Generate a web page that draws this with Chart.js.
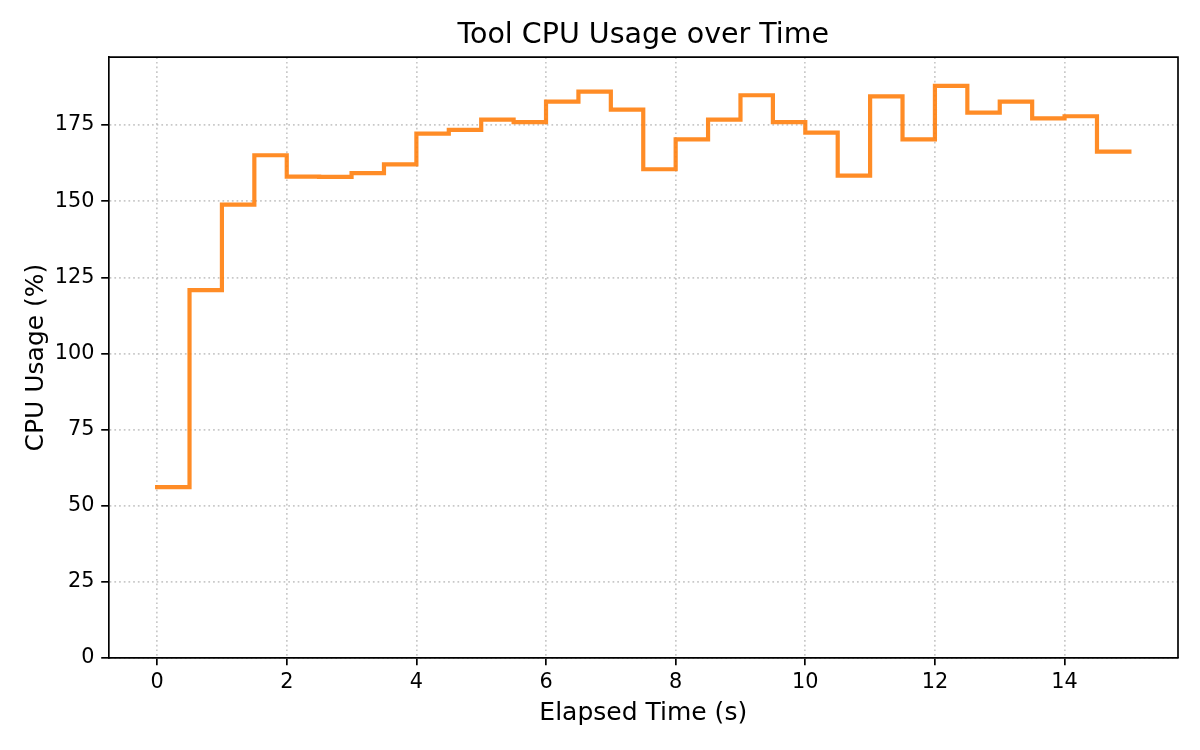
<!DOCTYPE html>
<html>
<head>
<meta charset="utf-8">
<title>Tool CPU Usage over Time</title>
<script src="https://cdn.jsdelivr.net/npm/chart.js@4/dist/chart.umd.min.js"></script>
<style>
  html, body { margin: 0; padding: 0; background: #fff; }
  #wrap { width: 1200px; height: 750px; }
</style>
</head>
<body>
<div id="wrap"><canvas id="cpuChart" width="1200" height="750"></canvas></div>
<script>
// sample times (s) and CPU usage (%)
const times = [
  0, 0.5, 1, 1.5, 2, 2.5, 3, 3.5, 4, 4.5,
  5, 5.5, 6, 6.5, 7, 7.5, 8, 8.5, 9, 9.5,
  10, 10.5, 11, 11.5, 12, 12.5, 13, 13.5, 14, 14.5, 15
];
const cpuUsage = [
  56.1, 120.8, 148.9, 165.1, 158.1, 158.0, 159.2, 162.1, 172.2, 173.4,
  176.8, 176.0, 182.7, 186.0, 180.1, 160.5, 170.3, 176.8, 184.8, 176.0,
  172.5, 158.4, 184.4, 170.3, 187.9, 179.1, 182.7, 177.2, 177.9, 166.3, 166.3
];
const xTicksStep = 2;
const yTicksStep = 25;

const FONT = "'DejaVu Sans', sans-serif";
const gridColor = "rgba(176,176,176,0.7)";

// matplotlib-like frame: draw top and right spines too
const framePlugin = {
  id: "frame",
  afterDraw(chart) {
    const { ctx, chartArea } = chart;
    ctx.save();
    ctx.strokeStyle = "#000";
    ctx.lineWidth = 1.67;
    ctx.beginPath();
    ctx.moveTo(chartArea.left, chartArea.top);
    ctx.lineTo(chartArea.right, chartArea.top);
    ctx.lineTo(chartArea.right, chartArea.bottom);
    ctx.stroke();
    ctx.restore();
  },
};

const points = times.map((t, i) => ({ x: t, y: cpuUsage[i] }));
const xMin = times[0] - 0.05 * (times[times.length - 1] - times[0]);
const xMax = times[times.length - 1] + 0.05 * (times[times.length - 1] - times[0]);
const yMax = Math.max(...cpuUsage) * 1.05;

new Chart(document.getElementById("cpuChart"), {
  type: "line",
  data: {
    datasets: [
      {
        label: "CPU Usage",
        data: points,
        stepped: true,
        borderColor: "rgba(255,127,14,0.9)",
        borderWidth: 4.2,
        borderCapStyle: "square",
        borderJoinStyle: "miter",
        pointRadius: 0,
        fill: false,
      },
    ],
  },
  options: {
    responsive: false,
    devicePixelRatio: 1,
    animation: false,
    layout: { padding: { left: 0, right: 22, top: 0, bottom: 0 } },
    plugins: {
      legend: { display: false },
      tooltip: { enabled: false },
      title: {
        display: true,
        fullSize: false,
        text: "Tool CPU Usage over Time",
        color: "#000",
        font: { family: FONT, size: 28.5, weight: "normal", lineHeight: 1.2 },
        padding: { top: 18, bottom: 5 },
      },
    },
    scales: {
      x: {
        type: "linear",
        min: xMin,
        max: xMax,
        afterFit(scale) { scale.height = 92; },
        ticks: {
          stepSize: xTicksStep,
          includeBounds: false,
          color: "#000",
          padding: 5,
          maxRotation: 0,
          font: { family: FONT, size: 20.8 },
          callback: (v) => String(v),
        },
        grid: {
          color: gridColor,
          lineWidth: 1.7,
          tickLength: 7.3,
          tickWidth: 1.67,
          tickColor: "#000",
          tickBorderDash: [],
        },
        border: { display: true, color: "#000", width: 1.67, dash: [1.7, 3] },
        title: {
          display: true,
          text: "Elapsed Time (s)",
          color: "#000",
          font: { family: FONT, size: 25, lineHeight: 1.2 },
          padding: { top: 0, bottom: 22 },
        },
      },
      y: {
        type: "linear",
        min: 0,
        max: yMax,
        afterFit(scale) { scale.width = 108.5; },
        ticks: {
          stepSize: yTicksStep,
          includeBounds: false,
          color: "#000",
          padding: 6.7,
          font: { family: FONT, size: 20.8 },
        },
        grid: {
          color: gridColor,
          lineWidth: 1.7,
          tickLength: 7.3,
          tickWidth: 1.67,
          tickColor: "#000",
          tickBorderDash: [],
        },
        border: { display: true, color: "#000", width: 1.67, dash: [1.7, 3] },
        title: {
          display: true,
          text: "CPU Usage (%)",
          color: "#000",
          font: { family: FONT, size: 25, lineHeight: 1.2 },
          padding: { top: 21, bottom: 0 },
        },
      },
    },
  },
  plugins: [framePlugin],
});
</script>
</body>
</html>
